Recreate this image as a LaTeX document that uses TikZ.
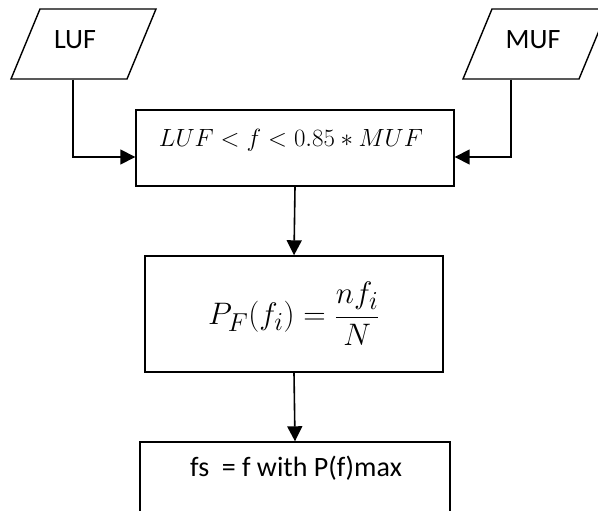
\documentclass[tikz,border=0pt]{standalone}
\usepackage{fontspec}
\setmainfont{Carlito}
\usetikzlibrary{arrows.meta}
\begin{document}
\begin{tikzpicture}[x=1pt,y=-1pt,
  line width=1.4pt,
  arr/.style={-{Triangle[length=15pt,width=15pt]}, line width=1.6pt},
  boxnode/.style={draw, rectangle, inner sep=0pt},
  lbl/.style={inner sep=0pt, font=\fontsize{28}{32}\selectfont},
]
\useasboundingbox (0,0) rectangle (598,511);
% parallelograms
\draw (40,9) -- (156,9) -- (127,79) -- (11,79) -- cycle;
\draw (492,9) -- (608,9) -- (579,79) -- (463,79) -- cycle;
\node[draw=none, minimum height=70pt, minimum width=2pt, inner sep=0pt] (luf) at (73,44) {};
\node[lbl] at (75,40) {LUF};
\node[draw=none, minimum height=70pt, minimum width=2pt, inner sep=0pt] (muf) at (511,44) {};
\node[lbl] at (533,40) {MUF};
% boxes
\node[boxnode, minimum width=318pt, minimum height=76pt] (b1) at (295,148) {};
\node[inner sep=0pt, font=\Huge] at (291,140) {$LUF<f<0.85*MUF$};
\node[boxnode, minimum width=298pt, minimum height=116pt, font=\Huge] (b2) at (294,314) {\scalebox{1.25}{$\displaystyle P_F(f_i)=\frac{nf_i}{N}$}};
\node[boxnode, minimum width=310pt, minimum height=78pt] (b3) at (295,481) {};
\node[lbl] at (296,468) {fs\ \ = f with P(f)max};
% connectors
\draw[arr] (luf.south) |- ([yshift=-9pt]b1.west);
\draw[arr] (muf.south) |- ([yshift=-9pt]b1.east);
\draw[arr] (b1.south) -- (b2.north);
\draw[arr] (b2.south) -- (b3.north);
\end{tikzpicture}
\end{document}
